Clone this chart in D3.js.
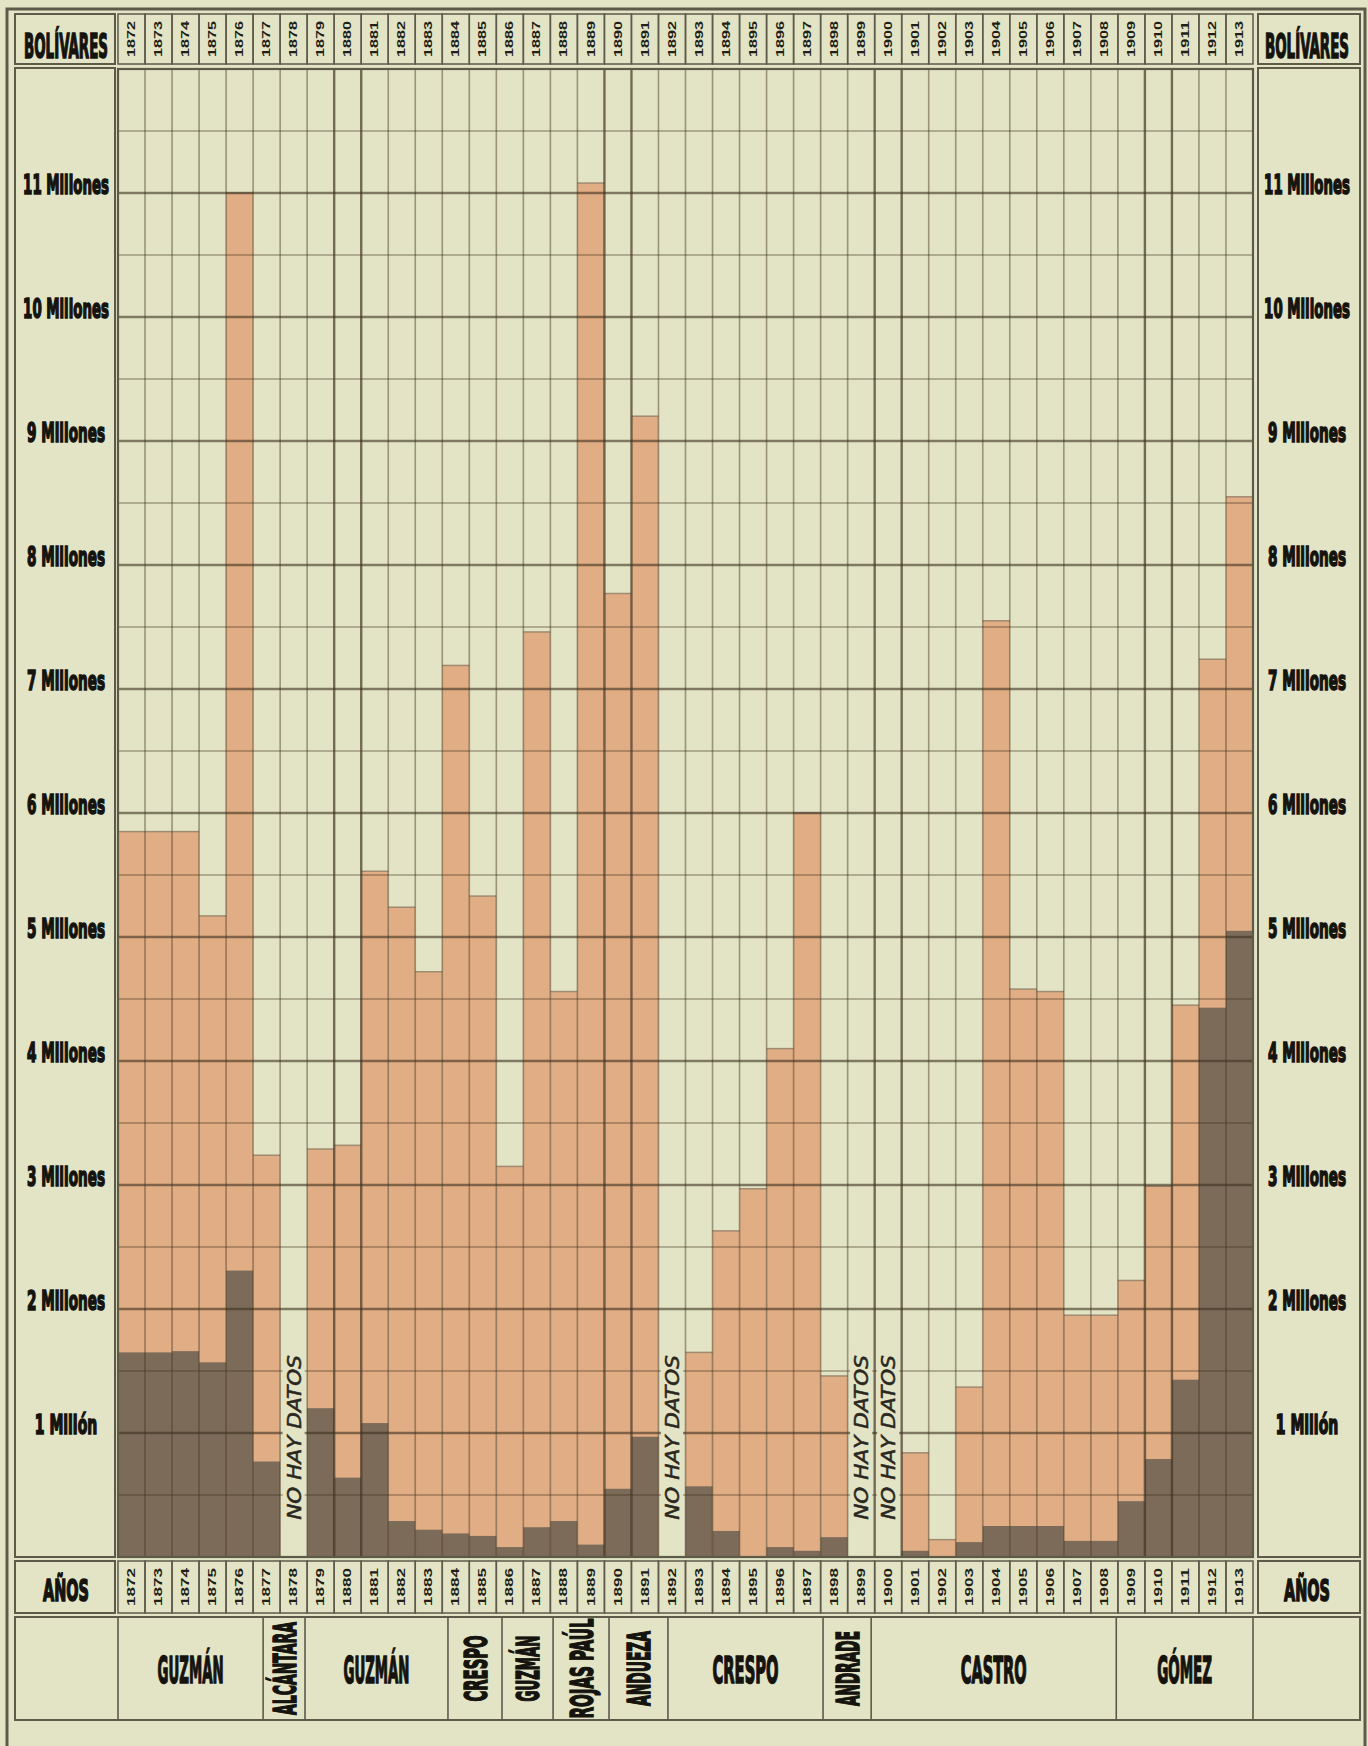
<!DOCTYPE html>
<html lang="es">

<head>
    <meta charset="utf-8">
    <title>Bolívares, 1872 - 1913</title>
    <script src="https://d3js.org/d3.v7.min.js"></script>
    <style>
        body {
            margin: 0;
            background: #e2e4c5;
        }

        .heavy {
            font-family: "Liberation Sans Narrow", "DejaVu Sans Condensed", "Roboto", sans-serif;
            font-weight: 700;
            fill: #15130e;
            stroke: #15130e;
            stroke-width: 1.6;
        }

        .yearlabel {
            font-family: "Liberation Sans Narrow", "Liberation Sans", sans-serif;
            font-weight: 700;
            fill: #221f18;
        }

        .nodata {
            font-family: "DejaVu Sans", sans-serif;
            font-style: italic;
            fill: #2a271f;
            stroke: #2a271f;
            stroke-width: 0.5;
        }
    </style>
</head>

<body>
    <script type="text/javascript">

        // Data - bolívares per year (millions). null = no data for that year
        const years = [1872, 1873, 1874, 1875, 1876, 1877, 1878, 1879, 1880, 1881,
            1882, 1883, 1884, 1885, 1886, 1887, 1888, 1889, 1890, 1891,
            1892, 1893, 1894, 1895, 1896, 1897, 1898, 1899, 1900, 1901,
            1902, 1903, 1904, 1905, 1906, 1907, 1908, 1909, 1910, 1911,
            1912, 1913];

        // light (orange) bars - total
        const totalValues = [5.85, 5.85, 5.85, 5.17, 11.0, 3.24, null, 3.29, 3.32, 5.53,
            5.24, 4.72, 7.19, 5.33, 3.15, 7.46, 4.56, 11.08, 7.77, 9.2,
            null, 1.65, 2.63, 2.97, 4.1, 6.0, 1.46, null, null, 0.84,
            0.14, 1.37, 7.55, 4.58, 4.56, 1.95, 1.95, 2.23, 2.99, 4.45,
            7.24, 8.55];

        // dark bars - portion of the total
        const darkValues = [1.65, 1.65, 1.66, 1.57, 2.31, 0.77, null, 1.2, 0.64, 1.08,
            0.29, 0.22, 0.19, 0.17, 0.08, 0.24, 0.29, 0.1, 0.55, 0.97,
            null, 0.57, 0.21, 0, 0.08, 0.05, 0.16, null, null, 0.05,
            0, 0.12, 0.25, 0.25, 0.25, 0.13, 0.13, 0.45, 0.79, 1.43,
            4.43, 5.05];

        const millionTicks = [1, 2, 3, 4, 5, 6, 7, 8, 9, 10, 11];
        const millionLabels = ["1 Millón", "2 Millones", "3 Millones", "4 Millones", "5 Millones",
            "6 Millones", "7 Millones", "8 Millones", "9 Millones", "10 Millones", "11 Millones"];

        // presidents and their terms (fractional years)
        const presidents = ["GUZMÁN", "ALCÁNTARA", "GUZMÁN", "CRESPO", "GUZMÁN", "ROJAS PAÚL",
            "ANDUEZA", "CRESPO", "ANDRADE", "CASTRO", "GÓMEZ"];
        const termStarts = [1872, 1877.37, 1878.92, 1884.21, 1886.21, 1888.1,
            1890.17, 1892.35, 1898.09, 1899.87, 1908.94];
        const termEnds = [1877.37, 1878.92, 1884.21, 1886.21, 1888.1, 1890.17,
            1892.35, 1898.09, 1899.87, 1908.94, 1914];

        const headerLabel = "BOLÍVARES";
        const yearsLabel = "AÑOS";
        const noDataLabel = "NO HAY DATOS";

        //Consts
        const w = 1368;
        const h = 1746;
        const paper = "#e2e4c5";
        const ink = "#5e5a4a";
        const orange = "#e0ad84";
        const dark = "#7c6b59";

        const plotLeft = 118, plotRight = 1253, plotTop = 69, plotBottom = 1557;
        const leftBox = [15, 115], rightBox = [1258, 1360];
        const headRow = [14, 64], yearRow = [1561, 1613], termRow = [1617, 1720];

        const rows = years.map((year, i) => ({ year: year, total: totalValues[i], dark: darkValues[i] }));

        //scales
        const xScale = d3.scaleBand()
            .domain(years)
            .range([plotLeft, plotRight]);

        const xTime = d3.scaleLinear()
            .domain([1872, 1914])
            .range([plotLeft, plotRight]);

        const yScale = d3.scaleLinear()
            .domain([0, 12])
            .range([plotBottom, plotTop]);

        const bw = xScale.bandwidth();

        //SVG
        const svg = d3.select("body")
            .append("svg")
            .attr("width", w)
            .attr("height", h);

        svg.append("rect")
            .attr("width", w)
            .attr("height", h)
            .attr("fill", paper);

        function box(x0, y0, x1, y1, sw) {
            svg.append("rect")
                .attr("x", x0).attr("y", y0)
                .attr("width", x1 - x0).attr("height", y1 - y0)
                .attr("fill", "none")
                .attr("stroke", ink)
                .attr("stroke-width", sw || 2);
        }

        // text squeezed (or stretched) along its baseline to a given length
        function fitted(parent, cls, str, x, y, size, len, vertical, anchor) {
            const t = parent.append("text")
                .attr("class", cls)
                .attr("text-anchor", anchor || "middle")
                .attr("font-size", size)
                .attr("dy", vertical && !anchor ? "0.36em" : 0)
                .text(str);
            const natural = t.node().getComputedTextLength();
            t.attr("transform", `translate(${x},${y})` + (vertical ? " rotate(-90)" : "") +
                ` scale(${len / natural},1)`);
            return t;
        }

        //outer frame
        box(7, 9, 1365, h + 20, 3);

        //bars
        const bars = svg.append("g");

        bars.selectAll("rect.total")
            .data(rows.filter(d => d.total != null))
            .join("rect")
            .attr("class", "total")
            .attr("x", d => xScale(d.year))
            .attr("width", bw)
            .attr("y", d => yScale(d.total))
            .attr("height", d => yScale(0) - yScale(d.total))
            .attr("fill", orange);

        // thin edge on top of each bar
        bars.selectAll("line.top")
            .data(rows.filter(d => d.total != null))
            .join("line")
            .attr("x1", d => xScale(d.year))
            .attr("x2", d => xScale(d.year) + bw)
            .attr("y1", d => yScale(d.total))
            .attr("y2", d => yScale(d.total))
            .attr("stroke", "#a08a70")
            .attr("stroke-width", 1.5);

        bars.selectAll("rect.dark")
            .data(rows.filter(d => d.dark))
            .join("rect")
            .attr("class", "dark")
            .attr("x", d => xScale(d.year))
            .attr("width", bw)
            .attr("y", d => yScale(d.dark))
            .attr("height", d => yScale(0) - yScale(d.dark))
            .attr("fill", dark);

        //grid - horizontal every half million, heavier on the whole million
        const grid = svg.append("g");
        const halfSteps = d3.range(1, 24).map(k => k / 2);

        grid.selectAll("line.h")
            .data(halfSteps)
            .join("line")
            .attr("x1", plotLeft)
            .attr("x2", plotRight)
            .attr("y1", d => yScale(d))
            .attr("y2", d => yScale(d))
            .attr("stroke", "#3e3020")
            .attr("stroke-opacity", d => d % 1 === 0 ? 0.6 : 0.42)
            .attr("stroke-width", d => d % 1 === 0 ? 2.3 : 1.6);

        //grid - vertical, decade columns get heavier borders
        const edges = d3.range(0, years.length + 1);
        const heavyEdge = i => (years[i] % 10 === 0) || (years[i - 1] % 10 === 0);

        grid.selectAll("line.v")
            .data(edges)
            .join("line")
            .attr("x1", i => plotLeft + i * bw)
            .attr("x2", i => plotLeft + i * bw)
            .attr("y1", plotTop)
            .attr("y2", plotBottom)
            .attr("stroke", "#3e3020")
            .attr("stroke-opacity", i => heavyEdge(i) ? 0.68 : 0.45)
            .attr("stroke-width", i => heavyEdge(i) ? 2.4 : 1.6);

        //no data columns
        const missing = rows.filter(d => d.total == null);

        grid.selectAll("rect.nd")
            .data(missing)
            .join("rect")
            .attr("x", d => xScale(d.year) + 2.5)
            .attr("width", bw - 5)
            .attr("y", yScale(1.7))
            .attr("height", yScale(0.24) - yScale(1.7))
            .attr("fill", paper);

        missing.forEach(d => {
            fitted(grid, "nodata", noDataLabel, xScale(d.year) + bw / 2 + 7, yScale(0.3),
                19, yScale(0.3) - yScale(1.63), true, "start");
        });

        //frames round the main rows
        box(leftBox[0], headRow[0], leftBox[1], headRow[1]);
        box(rightBox[0], headRow[0], rightBox[1], headRow[1]);
        box(leftBox[0], plotTop - 1, leftBox[1], plotBottom);
        box(rightBox[0], plotTop - 1, rightBox[1], plotBottom);
        box(plotLeft, plotTop, plotRight, plotBottom, 2.2);
        box(leftBox[0], yearRow[0], leftBox[1], yearRow[1]);
        box(rightBox[0], yearRow[0], rightBox[1], yearRow[1]);
        box(leftBox[0], termRow[0], rightBox[1], termRow[1]);

        //year cells, top and bottom
        [headRow, yearRow].forEach(r => {
            const cells = svg.append("g");
            cells.selectAll("rect")
                .data(years)
                .join("rect")
                .attr("x", d => xScale(d))
                .attr("y", r[0])
                .attr("width", bw)
                .attr("height", r[1] - r[0])
                .attr("fill", "none")
                .attr("stroke", ink)
                .attr("stroke-width", 1.5);

            years.forEach(d => {
                fitted(cells, "yearlabel", d, xScale(d) + bw / 2, (r[0] + r[1]) / 2,
                    10, r[1] - r[0] - 14, true);
            });
        });

        //side labels
        const sideCenters = [(leftBox[0] + leftBox[1]) / 2 + 1, (rightBox[0] + rightBox[1]) / 2 - 2];

        sideCenters.forEach(cx => {
            const side = svg.append("g");
            fitted(side, "heavy", headerLabel, cx, headRow[1] - 6, 33, 84);
            fitted(side, "heavy", yearsLabel, cx, yearRow[1] - 12, 30, 46);
            millionTicks.forEach((v, i) => {
                fitted(side, "heavy", millionLabels[i], cx, yScale(v) + 1, 26,
                    millionLabels[i].length * 7.8);
            });
        });

        //presidents row
        const terms = presidents.map((name, i) => ({ name: name, start: termStarts[i], end: termEnds[i] }));
        const termG = svg.append("g");

        termG.selectAll("line")
            .data(termStarts.concat([1914]))
            .join("line")
            .attr("x1", d => xTime(d))
            .attr("x2", d => xTime(d))
            .attr("y1", termRow[0])
            .attr("y2", termRow[1])
            .attr("stroke", ink)
            .attr("stroke-width", 1.6);

        const termMid = (termRow[0] + termRow[1]) / 2;

        terms.forEach(d => {
            const cx = (xTime(d.start) + xTime(d.end)) / 2;
            const narrow = xTime(d.end) - xTime(d.start) < 80;
            if (narrow) {
                fitted(termG, "heavy", d.name, cx, termMid, 32,
                    Math.min(100, d.name.length * 9 + 12), true);
            } else {
                fitted(termG, "heavy", d.name, cx, termMid + 14, 38, d.name.length * 11);
            }
        });

    </script>
</body>

</html>
